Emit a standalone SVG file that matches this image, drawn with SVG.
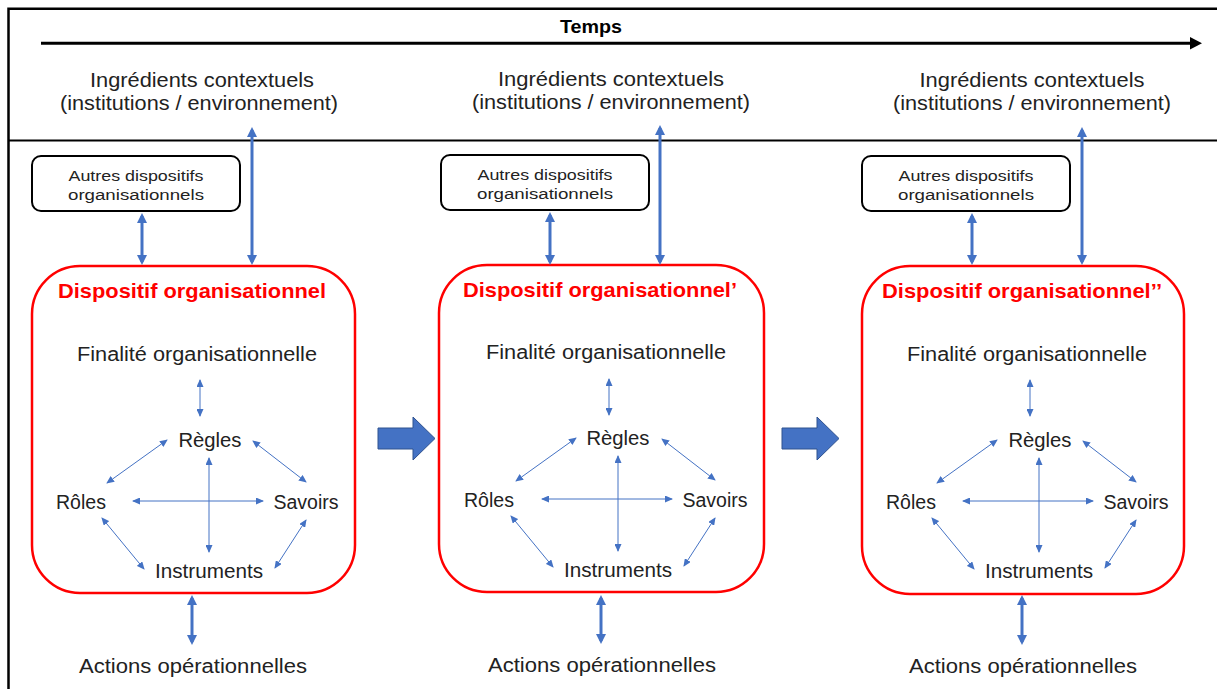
<svg xmlns="http://www.w3.org/2000/svg" width="1217" height="689" viewBox="0 0 1217 689">
<style>
  text { font-family: "Liberation Sans", Arial, sans-serif; fill: #222; }
  .lbl { font-size: 20px; text-anchor: middle; }
  .small { font-size: 15.5px; text-anchor: middle; }
  .title { font-size: 21px; font-weight: bold; fill: #FF0000; text-anchor: middle; }
  .temps { font-size: 18px; font-weight: bold; fill: #000; text-anchor: middle; }
  .frame { fill: none; stroke: #000; }
  .redbox { fill: #fff; stroke: #FF0000; stroke-width: 2.5; }
  .box { fill: #fff; stroke: #000; stroke-width: 2; }
  .thin { stroke: #4472C4; stroke-width: 1; fill: none; marker-start: url(#ah); marker-end: url(#ah); }
  .thick { stroke: #4472C4; stroke-width: 3; fill: none; marker-start: url(#ahb); marker-end: url(#ahb); }
  .block { fill: #4472C4; stroke: #2F528F; stroke-width: 1; }
</style>
<defs>
  <marker id="ah" viewBox="0 0 8 7" refX="7" refY="3.5" markerWidth="8" markerHeight="7" markerUnits="userSpaceOnUse" orient="auto-start-reverse">
    <path d="M0,0 L8,3.5 L0,7 Z" fill="#4472C4"/>
  </marker>
  <marker id="ahb" viewBox="0 0 10 10" refX="7" refY="5" markerWidth="10" markerHeight="10" markerUnits="userSpaceOnUse" orient="auto-start-reverse">
    <path d="M0,0 L10,5 L0,10 Z" fill="#4472C4"/>
  </marker>
</defs>
<rect width="1217" height="689" fill="#fff"/>

<g id="frame">
  <path class="frame" d="M1225,8.7 H8.5 V700" stroke-width="2.5"/>
  <line class="frame" x1="8" y1="140.5" x2="1225" y2="140.5" stroke-width="2"/>
</g>

<g id="time-axis">
  <line x1="41" y1="43.3" x2="1192" y2="43.3" stroke="#000" stroke-width="3"/>
  <polygon points="1190,37 1202,43.3 1190,49.6" fill="#000"/>
  <text class="temps" x="591" y="33" textLength="62" lengthAdjust="spacingAndGlyphs">Temps</text>
</g>

<!-- Panel 1 -->
<g id="panel1">
  <g id="p1-ingredients">
    <text class="lbl" x="202" y="87" textLength="224" lengthAdjust="spacingAndGlyphs">Ingrédients contextuels</text>
    <text class="lbl" x="199" y="110" textLength="278" lengthAdjust="spacingAndGlyphs">(institutions / environnement)</text>
  </g>
  <g id="p1-autres">
    <rect class="box" x="32" y="156" width="208" height="55" rx="9"/>
    <text class="small" x="136" y="181" textLength="135" lengthAdjust="spacingAndGlyphs">Autres dispositifs</text>
    <text class="small" x="136" y="200" textLength="136" lengthAdjust="spacingAndGlyphs">organisationnels</text>
  </g>
  <g id="p1-dispositif">
    <rect class="redbox" x="32" y="266" width="323" height="327" rx="48"/>
    <text class="title" x="192" y="298" textLength="268" lengthAdjust="spacingAndGlyphs">Dispositif organisationnel</text>
  </g>
  <g id="p1-finalite"><text class="lbl" x="197" y="361" textLength="240" lengthAdjust="spacingAndGlyphs">Finalité organisationnelle</text></g>
  <g id="p1-regles"><text class="lbl" x="210" y="447" textLength="63" lengthAdjust="spacingAndGlyphs">Règles</text></g>
  <g id="p1-roles"><text class="lbl" x="81" y="509" textLength="50" lengthAdjust="spacingAndGlyphs">Rôles</text></g>
  <g id="p1-savoirs"><text class="lbl" x="306" y="509" textLength="65" lengthAdjust="spacingAndGlyphs">Savoirs</text></g>
  <g id="p1-instruments"><text class="lbl" x="209" y="578" textLength="108" lengthAdjust="spacingAndGlyphs">Instruments</text></g>
  <g id="p1-actions"><text class="lbl" x="193" y="673" textLength="228" lengthAdjust="spacingAndGlyphs">Actions opérationnelles</text></g>
</g>

<!-- Panel 2 -->
<g id="panel2" transform="translate(408,-1)">
  <g id="p2-ingredients">
    <text class="lbl" x="203" y="87" textLength="226" lengthAdjust="spacingAndGlyphs">Ingrédients contextuels</text>
    <text class="lbl" x="203" y="110" textLength="278" lengthAdjust="spacingAndGlyphs">(institutions / environnement)</text>
  </g>
  <g id="p2-autres">
    <rect class="box" x="33" y="156" width="208" height="55" rx="9"/>
    <text class="small" x="137" y="181" textLength="135" lengthAdjust="spacingAndGlyphs">Autres dispositifs</text>
    <text class="small" x="137" y="200" textLength="136" lengthAdjust="spacingAndGlyphs">organisationnels</text>
  </g>
  <g id="p2-dispositif">
    <rect class="redbox" x="31" y="266" width="325" height="327" rx="48"/>
    <text class="title" x="192" y="298" textLength="274" lengthAdjust="spacingAndGlyphs">Dispositif organisationnel’</text>
  </g>
  <g id="p2-finalite"><text class="lbl" x="198" y="360" textLength="240" lengthAdjust="spacingAndGlyphs">Finalité organisationnelle</text></g>
  <g id="p2-regles"><text class="lbl" x="210" y="446" textLength="63" lengthAdjust="spacingAndGlyphs">Règles</text></g>
  <g id="p2-roles"><text class="lbl" x="81" y="508" textLength="50" lengthAdjust="spacingAndGlyphs">Rôles</text></g>
  <g id="p2-savoirs"><text class="lbl" x="307" y="508" textLength="65" lengthAdjust="spacingAndGlyphs">Savoirs</text></g>
  <g id="p2-instruments"><text class="lbl" x="210" y="578" textLength="108" lengthAdjust="spacingAndGlyphs">Instruments</text></g>
  <g id="p2-actions"><text class="lbl" x="194" y="673" textLength="228" lengthAdjust="spacingAndGlyphs">Actions opérationnelles</text></g>
</g>

<!-- Panel 3 -->
<g id="panel3" transform="translate(830,0)">
  <g id="p3-ingredients">
    <text class="lbl" x="202" y="87" textLength="225" lengthAdjust="spacingAndGlyphs">Ingrédients contextuels</text>
    <text class="lbl" x="202" y="110" textLength="278" lengthAdjust="spacingAndGlyphs">(institutions / environnement)</text>
  </g>
  <g id="p3-autres">
    <rect class="box" x="32" y="156" width="208" height="55" rx="9"/>
    <text class="small" x="136" y="181" textLength="135" lengthAdjust="spacingAndGlyphs">Autres dispositifs</text>
    <text class="small" x="136" y="200" textLength="136" lengthAdjust="spacingAndGlyphs">organisationnels</text>
  </g>
  <g id="p3-dispositif">
    <rect class="redbox" x="32" y="266" width="322" height="328" rx="48"/>
    <text class="title" x="192" y="298" textLength="280" lengthAdjust="spacingAndGlyphs">Dispositif organisationnel’’</text>
  </g>
  <g id="p3-finalite"><text class="lbl" x="197" y="361" textLength="240" lengthAdjust="spacingAndGlyphs">Finalité organisationnelle</text></g>
  <g id="p3-regles"><text class="lbl" x="210" y="447" textLength="63" lengthAdjust="spacingAndGlyphs">Règles</text></g>
  <g id="p3-roles"><text class="lbl" x="81" y="509" textLength="50" lengthAdjust="spacingAndGlyphs">Rôles</text></g>
  <g id="p3-savoirs"><text class="lbl" x="306" y="509" textLength="65" lengthAdjust="spacingAndGlyphs">Savoirs</text></g>
  <g id="p3-instruments"><text class="lbl" x="209" y="578" textLength="108" lengthAdjust="spacingAndGlyphs">Instruments</text></g>
  <g id="p3-actions"><text class="lbl" x="193" y="673" textLength="228" lengthAdjust="spacingAndGlyphs">Actions opérationnelles</text></g>
</g>

<g id="connectors">
  <g id="c-panel1">
    <line class="thick" x1="142" y1="216" x2="142" y2="262"/>
    <line class="thick" x1="252" y1="130" x2="252" y2="262"/>
    <line class="thick" x1="192" y1="598" x2="192" y2="642"/>
    <line class="thin" x1="200" y1="380" x2="200" y2="416"/>
    <line class="thin" x1="209" y1="458" x2="209" y2="552"/>
    <line class="thin" x1="133" y1="501" x2="263" y2="501"/>
    <line class="thin" x1="167" y1="440" x2="107" y2="483"/>
    <line class="thin" x1="253" y1="441" x2="306" y2="482"/>
    <line class="thin" x1="102" y1="518" x2="144" y2="569"/>
    <line class="thin" x1="306" y1="520" x2="275" y2="568"/>
  </g>
  <g id="c-panel2" transform="translate(408,-1)">
    <line class="thick" x1="142" y1="216" x2="142" y2="263"/>
    <line class="thick" x1="252" y1="129" x2="252" y2="263"/>
    <line class="thick" x1="193" y1="599" x2="193" y2="642"/>
    <line class="thin" x1="201" y1="380" x2="201" y2="416"/>
    <line class="thin" x1="210" y1="457" x2="210" y2="552"/>
    <line class="thin" x1="134" y1="500" x2="264" y2="500"/>
    <line class="thin" x1="168" y1="439" x2="108" y2="482"/>
    <line class="thin" x1="254" y1="440" x2="307" y2="481"/>
    <line class="thin" x1="103" y1="517" x2="145" y2="568"/>
    <line class="thin" x1="307" y1="519" x2="276" y2="567"/>
  </g>
  <g id="c-panel3" transform="translate(830,0)">
    <line class="thick" x1="142" y1="216" x2="142" y2="262"/>
    <line class="thick" x1="252" y1="130" x2="252" y2="262"/>
    <line class="thick" x1="192" y1="598" x2="192" y2="642"/>
    <line class="thin" x1="200" y1="380" x2="200" y2="416"/>
    <line class="thin" x1="209" y1="458" x2="209" y2="552"/>
    <line class="thin" x1="133" y1="501" x2="263" y2="501"/>
    <line class="thin" x1="167" y1="440" x2="107" y2="483"/>
    <line class="thin" x1="253" y1="441" x2="306" y2="482"/>
    <line class="thin" x1="102" y1="518" x2="144" y2="569"/>
    <line class="thin" x1="306" y1="520" x2="275" y2="568"/>
  </g>
  <polygon id="step1" class="block" points="378,428 413,428 413,417 435,438.5 413,460 413,449 378,449"/>
  <polygon id="step2" class="block" points="782,428 817,428 817,417 839,438.5 817,460 817,449 782,449"/>
</g>
</svg>
